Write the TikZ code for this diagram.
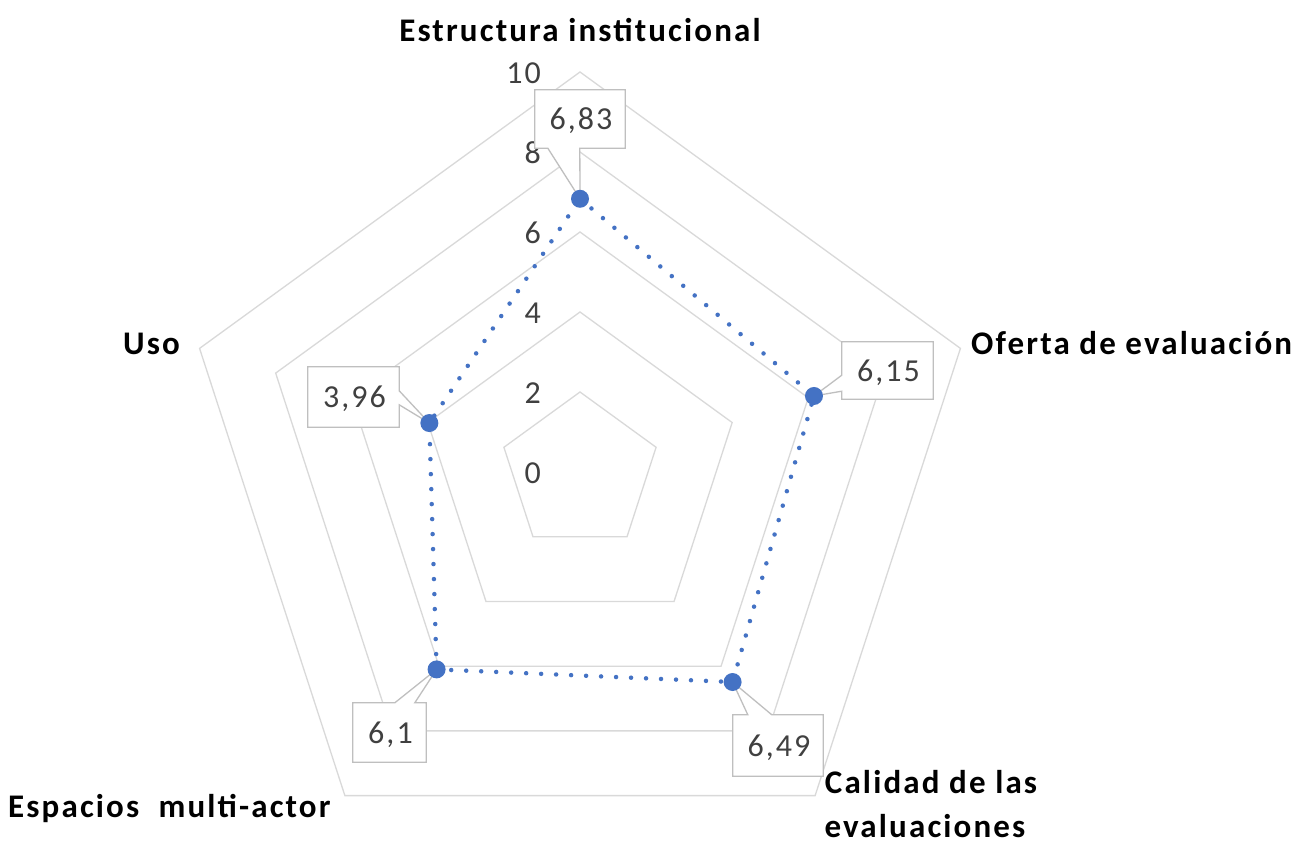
\documentclass[tikz,border=0pt]{standalone}
\usepackage{fontspec}
\setmainfont{Carlito}[LetterSpace=6.5]
\usetikzlibrary{calc}
\definecolor{gridc}{HTML}{D9D9D9}
\definecolor{boxc}{HTML}{BFBFBF}
\definecolor{serc}{HTML}{4472C4}
\definecolor{numc}{HTML}{404040}
\begin{document}
\begin{tikzpicture}[x=1pt,y=1pt,
  gridline/.style={draw=gridc, line width=1.3pt, line join=miter},
  series/.style={draw=serc, line width=4.5pt, line cap=round, dash pattern=on 0pt off 15pt},
  marker/.style={circle, fill=serc, inner sep=0pt, minimum size=18pt},
  boxnode/.style={inner sep=0pt, minimum height=58pt},
  callout/.style={draw=boxc, fill=white, line width=1.3pt, line join=miter},
  vallabel/.style={font=\fontsize{32}{38}\selectfont, text=numc, inner sep=0pt, anchor=base},
  ticklabel/.style={font=\fontsize{32}{38}\selectfont, text=numc, anchor=base east, inner sep=0pt},
  axislabel/.style={font=\bfseries\fontsize{33}{40}\selectfont, text=black, inner sep=0pt}]
\useasboundingbox (0,0) rectangle (1305,843);
\fill[white] (0,0) rectangle (1305,843);
\begin{scope}[shift={(580,371)}]
  \foreach \r in {80,160,240,320,400} {
    \draw[gridline] (90:\r) -- (18:\r) -- (-54:\r) -- (-126:\r) -- (162:\r) -- cycle;
  }
  \coordinate (p1) at (90:273.2);
  \coordinate (p2) at (18:246);
  \coordinate (p3) at (-54:259.6);
  \coordinate (p4) at (-126:244);
  \coordinate (p5) at (162:158.4);
\end{scope}

% tick labels
\node[ticklabel] (t0) at (541,359) {0};
\node[ticklabel] (t2) at (541,439) {2};
\node[ticklabel] (t4) at (541,519) {4};
\node[ticklabel] (t6) at (541,599) {6};
\node[ticklabel] (t8) at (541,679) {8};
\node[ticklabel] (t10) at (541,759) {10};

% series
\draw[series] (p1) -- (p2) -- (p3) -- (p4) -- (p5) -- cycle;

% callouts
\node[boxnode, minimum width=90pt] (b1) at (580,724) {};
\draw[callout] (b1.north west) -- (b1.north east) -- (b1.south east)
  -- ([xshift=45pt]b1.south west) -- (p1) -- ([xshift=13pt]b1.south west)
  -- (b1.south west) -- cycle;
\node[vallabel] (l1) at ([xshift=1pt,yshift=-11pt]b1.center) {6,83};

\node[boxnode, minimum width=91pt, minimum height=57pt] (b2) at (887.5,472.5) {};
\draw[callout] (b2.north west) -- (b2.north east) -- (b2.south east) -- (b2.south west)
  -- ([yshift=8pt]b2.south west) -- (p2) -- ([yshift=24pt]b2.south west) -- cycle;
\node[vallabel] (l2) at ([xshift=1pt,yshift=-11pt]b2.center) {6,15};

\node[boxnode, minimum width=91pt, minimum height=60pt] (b3) at (353.5,446) {};
\draw[callout] (b3.north west) -- (b3.north east) -- ([yshift=-24pt]b3.north east)
  -- (p5) -- ([yshift=-38pt]b3.north east) -- (b3.south east) -- (b3.south west) -- cycle;
\node[vallabel] (l3) at ([xshift=1pt,yshift=-11pt]b3.center) {3,96};

\node[boxnode, minimum width=73pt, minimum height=59pt] (b4) at (389.5,110.5) {};
\draw[callout] (b4.north west) -- ([xshift=42pt]b4.north west) -- (p4)
  -- ([xshift=62pt]b4.north west) -- (b4.north east) -- (b4.south east) -- (b4.south west) -- cycle;
\node[vallabel] (l4) at ([xshift=1pt,yshift=-11pt]b4.center) {6,1};

\node[boxnode, minimum width=90pt, minimum height=61pt] (b5) at (778,97.5) {};
\draw[callout] (b5.north west) -- ([xshift=15pt]b5.north west) -- (p3)
  -- ([xshift=39pt]b5.north west) -- (b5.north east) -- (b5.south east) -- (b5.south west) -- cycle;
\node[vallabel] (l5) at ([xshift=1pt,yshift=-11pt]b5.center) {6,49};

% markers
\node[marker] (m1) at (p1) {};
\node[marker] (m2) at (p2) {};
\node[marker] (m3) at (p3) {};
\node[marker] (m4) at (p4) {};
\node[marker] (m5) at (p5) {};

% axis labels
\node[axislabel, anchor=base] (a1) at (580,801) {Estructura institucional};
\node[axislabel, anchor=base west] (a2) at (971,488) {Oferta de evaluación};
\node[axislabel, anchor=base west] (a5) at (123,488) {Uso};
\node[axislabel, anchor=base west] (a4) at (8,26) {Espacios\ \ multi-actor};
\node[axislabel, anchor=base] (a3a) at (931,50) {Calidad de las};
\node[axislabel, anchor=base] (a3b) at (925,6) {evaluaciones};
\end{tikzpicture}
\end{document}
